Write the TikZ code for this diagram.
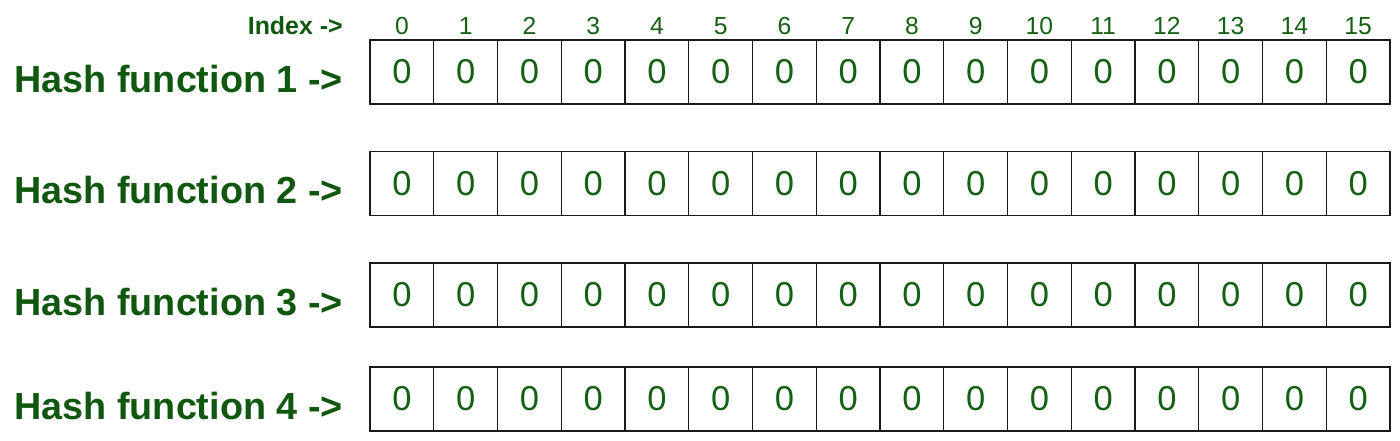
\documentclass[tikz,border=0pt]{standalone}
\usepackage{fontspec}
\setmainfont{Liberation Sans}
\definecolor{gfg}{RGB}{20,96,20}
\definecolor{gfglab}{RGB}{16,88,16}
\begin{document}
\begin{tikzpicture}[x=0.75pt,y=-0.75pt,
  cell/.style={draw=black!90, line width=1.1pt, minimum width=47.8125pt, minimum height=48pt,
    inner sep=0pt, text=gfg, font=\fontsize{25.9}{26}\selectfont},
  hashlabel/.style={anchor=base east, inner sep=0pt, text=gfglab, font=\fontsize{28.3}{29}\selectfont\bfseries},
  idxnum/.style={anchor=base, inner sep=0pt, text=gfg, font=\fontsize{18.5}{19}\selectfont},
  idxlabel/.style={anchor=base east, inner sep=0pt, text=gfglab, font=\fontsize{18.7}{19}\selectfont\bfseries}]
\useasboundingbox (0,0) rectangle (1400,440);
\fill[white] (0,0) rectangle (1400,440);
\node[idxlabel] (idx) at (343,34) {Index ->};
\foreach \i in {0,...,15}
  \node[idxnum] (n\i) at ({370+63.75*(\i+0.5)},34) {\i};
\foreach \r/\yc in {1/72,2/183.5,3/295,4/399}{
  \node[hashlabel] (h\r) at (343,\yc+20) {Hash function \r\ ->};
  \foreach \i in {0,...,15}
    \node[cell] (r\r c\i) at ({370+63.75*(\i+0.5)},\yc) {0};
}
\end{tikzpicture}
\end{document}
